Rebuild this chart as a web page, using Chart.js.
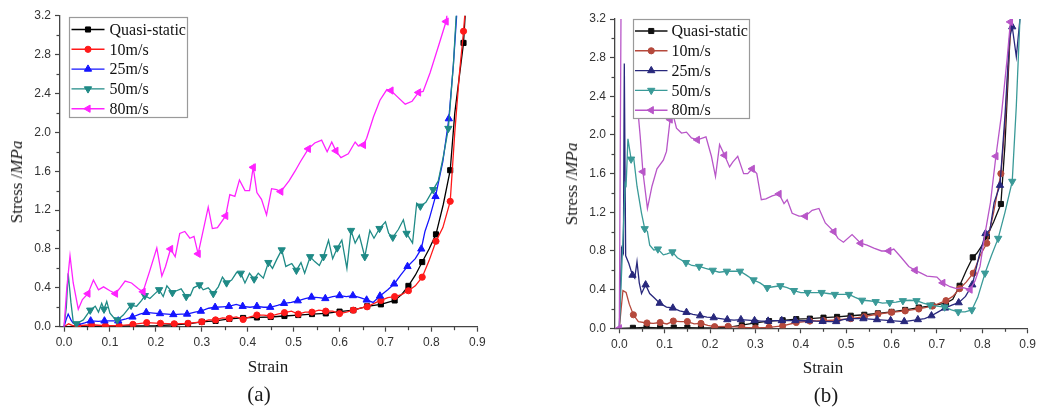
<!DOCTYPE html>
<html><head><meta charset="utf-8">
<script src="https://cdn.jsdelivr.net/npm/chart.js@4.4.0/dist/chart.umd.min.js"></script>
<style>
html,body{margin:0;padding:0;background:#fff;}
#wrap{position:relative;width:1040px;height:408px;overflow:hidden;background:#fff;}
canvas{position:absolute;top:0;}
.lbl{position:absolute;font-family:"Liberation Serif","Times New Roman",serif;color:#1a1a1a;white-space:nowrap;transform:translate(-50%,-50%);}
.ttl{font-size:17px;}
.rot{transform:translate(-50%,-50%) rotate(-90deg);}
.pan{font-size:21px;}
</style></head><body>
<div id="wrap">
<canvas id="ca" width="520" height="408" style="left:0;width:520px;height:408px"></canvas>
<canvas id="cb" width="520" height="408" style="left:520px;width:520px;height:408px"></canvas>
<div class="lbl ttl" style="left:268px;top:367px">Strain</div>
<div class="lbl ttl" style="left:823px;top:368px">Strain</div>
<div class="lbl ttl rot" style="left:17px;top:182px">Stress /<i>MPa</i></div>
<div class="lbl ttl rot" style="left:572px;top:184px">Stress /<i>MPa</i></div>
<div class="lbl pan" style="left:259px;top:394px">(a)</div>
<div class="lbl pan" style="left:826px;top:395px">(b)</div>
</div>
<script>
// ---------------- DATA ----------------
const seriesNames = ['Quasi-static', '10m/s', '25m/s', '50m/s', '80m/s'];
const xTickValues = [0, 0.1, 0.2, 0.3, 0.4, 0.5, 0.6, 0.7, 0.8, 0.9];
const yTickValues = [0, 0.4, 0.8, 1.2, 1.6, 2.0, 2.4, 2.8, 3.2];

// Panel (a)
const a_qs = [[0,0],[0.05,0.003],[0.1,0.005],[0.15,0.008],[0.2,0.012],[0.24,0.02],[0.27,0.03],[0.3,0.05],[0.33,0.06],[0.36,0.08],[0.39,0.09],[0.42,0.095],[0.45,0.1],[0.48,0.11],[0.51,0.12],[0.54,0.13],[0.57,0.137],[0.6,0.155],[0.63,0.17],[0.66,0.21],[0.69,0.23],[0.72,0.27],[0.735,0.33],[0.75,0.42],[0.765,0.53],[0.78,0.665],[0.795,0.8],[0.81,0.95],[0.826,1.26],[0.841,1.61],[0.851,2.2],[0.87,2.92],[0.876,3.4]];
const a_10 = [[0,0],[0.01,0.03],[0.02,0.01],[0.03,0.01],[0.06,0.02],[0.09,0.01],[0.12,0.012],[0.15,0.024],[0.18,0.042],[0.21,0.035],[0.24,0.03],[0.27,0.035],[0.3,0.05],[0.315,0.07],[0.33,0.07],[0.345,0.09],[0.36,0.085],[0.375,0.1],[0.39,0.075],[0.405,0.1],[0.42,0.12],[0.435,0.12],[0.45,0.11],[0.465,0.13],[0.48,0.145],[0.495,0.16],[0.51,0.13],[0.525,0.15],[0.54,0.15],[0.555,0.17],[0.57,0.16],[0.585,0.16],[0.6,0.135],[0.615,0.15],[0.63,0.17],[0.645,0.19],[0.66,0.205],[0.675,0.24],[0.69,0.27],[0.705,0.3],[0.72,0.31],[0.735,0.33],[0.75,0.37],[0.765,0.42],[0.78,0.51],[0.795,0.68],[0.81,0.88],[0.825,1.02],[0.841,1.29],[0.851,2.0],[0.861,2.6],[0.87,3.04],[0.876,3.4]];
const a_25 = [[0,0],[0.005,0.08],[0.009,0.13],[0.015,0.07],[0.02,0.035],[0.03,0.02],[0.045,0.04],[0.058,0.06],[0.075,0.055],[0.088,0.06],[0.105,0.06],[0.118,0.06],[0.135,0.08],[0.149,0.1],[0.165,0.13],[0.179,0.147],[0.195,0.14],[0.209,0.135],[0.225,0.13],[0.238,0.125],[0.255,0.13],[0.268,0.13],[0.285,0.15],[0.298,0.16],[0.315,0.19],[0.329,0.2],[0.345,0.205],[0.359,0.21],[0.375,0.23],[0.389,0.21],[0.405,0.2],[0.42,0.21],[0.435,0.2],[0.449,0.2],[0.465,0.22],[0.479,0.24],[0.495,0.25],[0.509,0.267],[0.525,0.29],[0.539,0.305],[0.555,0.3],[0.569,0.29],[0.585,0.31],[0.6,0.32],[0.615,0.31],[0.629,0.32],[0.645,0.3],[0.659,0.275],[0.673,0.25],[0.688,0.316],[0.705,0.38],[0.719,0.44],[0.733,0.53],[0.748,0.62],[0.765,0.7],[0.778,0.8],[0.786,0.98],[0.796,1.12],[0.809,1.34],[0.825,1.7],[0.838,2.14],[0.848,2.7],[0.855,3.2],[0.858,3.4]];
const a_50 = [[0,0],[0.005,0.2],[0.009,0.55],[0.015,0.25],[0.02,0.05],[0.027,0.03],[0.042,0.07],[0.057,0.17],[0.068,0.21],[0.075,0.15],[0.082,0.24],[0.087,0.18],[0.093,0.26],[0.1,0.14],[0.107,0.1],[0.116,0.07],[0.129,0.12],[0.146,0.22],[0.158,0.21],[0.169,0.27],[0.176,0.32],[0.187,0.29],[0.198,0.34],[0.207,0.38],[0.216,0.31],[0.224,0.42],[0.236,0.35],[0.245,0.37],[0.255,0.39],[0.266,0.31],[0.275,0.32],[0.282,0.4],[0.295,0.43],[0.303,0.38],[0.314,0.4],[0.325,0.34],[0.336,0.41],[0.345,0.51],[0.354,0.45],[0.365,0.48],[0.376,0.56],[0.385,0.55],[0.394,0.45],[0.404,0.55],[0.414,0.49],[0.423,0.55],[0.434,0.5],[0.445,0.66],[0.454,0.6],[0.463,0.69],[0.474,0.79],[0.483,0.62],[0.496,0.65],[0.506,0.58],[0.516,0.66],[0.524,0.55],[0.536,0.72],[0.546,0.67],[0.556,0.63],[0.565,0.72],[0.576,0.89],[0.585,0.7],[0.595,0.81],[0.605,0.89],[0.616,0.6],[0.625,0.99],[0.634,0.86],[0.643,0.94],[0.655,0.72],[0.666,0.99],[0.675,0.91],[0.687,1.01],[0.7,1.08],[0.707,0.96],[0.716,0.92],[0.728,1.0],[0.739,1.1],[0.746,0.96],[0.759,0.86],[0.768,1.27],[0.776,1.24],[0.788,1.28],[0.804,1.41],[0.815,1.5],[0.826,1.75],[0.837,2.04],[0.848,2.7],[0.854,3.2],[0.857,3.4]];
const a_80 = [[0,0],[0.006,0.4],[0.013,0.73],[0.02,0.45],[0.031,0.18],[0.04,0.28],[0.052,0.34],[0.064,0.48],[0.075,0.38],[0.086,0.41],[0.1,0.37],[0.112,0.34],[0.122,0.4],[0.133,0.47],[0.147,0.45],[0.162,0.39],[0.172,0.36],[0.187,0.58],[0.202,0.81],[0.213,0.52],[0.221,0.62],[0.232,0.8],[0.242,0.72],[0.252,0.96],[0.263,0.98],[0.274,0.91],[0.283,0.93],[0.292,0.75],[0.314,1.23],[0.323,1.01],[0.334,1.02],[0.352,1.14],[0.361,1.36],[0.372,1.34],[0.382,1.51],[0.394,1.4],[0.404,1.4],[0.412,1.64],[0.42,1.38],[0.43,1.31],[0.441,1.15],[0.452,1.42],[0.463,1.41],[0.472,1.39],[0.49,1.5],[0.503,1.6],[0.515,1.7],[0.532,1.83],[0.546,1.89],[0.561,1.92],[0.573,1.8],[0.583,1.9],[0.592,1.81],[0.603,1.74],[0.619,1.78],[0.634,1.9],[0.641,1.86],[0.652,1.87],[0.659,1.94],[0.674,2.16],[0.688,2.33],[0.703,2.44],[0.712,2.43],[0.725,2.37],[0.743,2.29],[0.758,2.32],[0.772,2.41],[0.782,2.42],[0.797,2.61],[0.815,2.88],[0.832,3.14],[0.838,3.35]];

// Panel (b)
const b_qs = [[0,0],[0.03,0.005],[0.06,0.01],[0.09,0.005],[0.12,0.008],[0.15,0.008],[0.18,0.005],[0.21,0.005],[0.24,0.01],[0.27,0.032],[0.3,0.057],[0.33,0.075],[0.36,0.083],[0.39,0.095],[0.42,0.1],[0.45,0.11],[0.48,0.118],[0.51,0.13],[0.54,0.14],[0.57,0.155],[0.6,0.17],[0.63,0.19],[0.66,0.215],[0.69,0.235],[0.72,0.26],[0.735,0.3],[0.75,0.44],[0.765,0.6],[0.779,0.734],[0.788,0.776],[0.8,0.86],[0.81,0.95],[0.825,1.1],[0.841,1.286],[0.85,1.9],[0.857,2.6],[0.863,3.2],[0.866,3.5]];
const b_10 = [[0,0],[0.004,0.2],[0.008,0.39],[0.015,0.37],[0.022,0.25],[0.031,0.14],[0.042,0.07],[0.061,0.055],[0.075,0.05],[0.09,0.06],[0.105,0.045],[0.119,0.075],[0.135,0.07],[0.15,0.07],[0.165,0.045],[0.18,0.05],[0.195,0.03],[0.21,0.017],[0.24,0.02],[0.27,0.01],[0.3,0.003],[0.33,0.01],[0.36,0.024],[0.39,0.06],[0.42,0.075],[0.45,0.08],[0.48,0.086],[0.51,0.1],[0.54,0.12],[0.57,0.148],[0.6,0.165],[0.63,0.18],[0.66,0.2],[0.69,0.23],[0.72,0.286],[0.735,0.33],[0.75,0.41],[0.765,0.48],[0.78,0.57],[0.795,0.75],[0.81,0.88],[0.825,1.2],[0.841,1.6],[0.85,2.1],[0.858,2.8],[0.864,3.2],[0.867,3.5]];
const b_25 = [[0,0],[0.005,0.83],[0.009,0.78],[0.011,2.74],[0.014,0.75],[0.021,0.67],[0.029,0.55],[0.034,0.52],[0.039,0.69],[0.044,0.47],[0.049,0.36],[0.058,0.45],[0.067,0.36],[0.078,0.31],[0.089,0.26],[0.104,0.22],[0.118,0.21],[0.133,0.18],[0.148,0.165],[0.162,0.145],[0.178,0.13],[0.193,0.115],[0.208,0.11],[0.223,0.1],[0.238,0.09],[0.253,0.085],[0.268,0.09],[0.283,0.085],[0.298,0.08],[0.313,0.075],[0.328,0.075],[0.343,0.08],[0.358,0.08],[0.373,0.08],[0.388,0.08],[0.403,0.078],[0.418,0.08],[0.433,0.075],[0.448,0.072],[0.463,0.07],[0.478,0.07],[0.493,0.09],[0.508,0.1],[0.523,0.1],[0.538,0.1],[0.553,0.095],[0.568,0.09],[0.583,0.085],[0.598,0.08],[0.613,0.075],[0.628,0.07],[0.643,0.08],[0.658,0.09],[0.673,0.1],[0.688,0.13],[0.703,0.17],[0.718,0.21],[0.733,0.24],[0.748,0.265],[0.763,0.33],[0.778,0.45],[0.793,0.75],[0.807,0.98],[0.817,1.02],[0.826,1.3],[0.839,1.48],[0.85,2.2],[0.86,3.0],[0.866,3.12],[0.875,2.81],[0.883,3.2],[0.886,3.5]];
const b_50 = [[0,0],[0.013,1.5],[0.015,1.48],[0.019,1.96],[0.026,1.75],[0.032,1.75],[0.039,1.47],[0.049,1.19],[0.056,1.03],[0.062,1.0],[0.067,0.86],[0.076,0.81],[0.085,0.82],[0.097,0.76],[0.105,0.77],[0.117,0.79],[0.128,0.73],[0.147,0.68],[0.16,0.65],[0.176,0.64],[0.19,0.62],[0.206,0.6],[0.22,0.58],[0.237,0.59],[0.252,0.59],[0.266,0.59],[0.28,0.55],[0.296,0.5],[0.31,0.47],[0.326,0.42],[0.34,0.43],[0.355,0.44],[0.37,0.42],[0.385,0.39],[0.4,0.37],[0.415,0.37],[0.43,0.37],[0.446,0.37],[0.46,0.36],[0.475,0.35],[0.49,0.35],[0.506,0.35],[0.52,0.32],[0.535,0.29],[0.55,0.285],[0.565,0.275],[0.58,0.26],[0.596,0.265],[0.61,0.27],[0.625,0.285],[0.64,0.29],[0.655,0.285],[0.67,0.26],[0.685,0.24],[0.7,0.23],[0.717,0.22],[0.732,0.19],[0.747,0.17],[0.762,0.17],[0.777,0.19],[0.79,0.32],[0.806,0.57],[0.82,0.75],[0.835,0.93],[0.85,1.2],[0.866,1.52],[0.875,2.3],[0.883,3.2],[0.886,3.5]];
const b_80 = [[0,0],[0.004,3.5],[0.035,3.35],[0.042,2.2],[0.046,1.99],[0.052,1.62],[0.062,1.24],[0.072,1.47],[0.083,1.65],[0.097,1.74],[0.104,1.83],[0.112,2.16],[0.118,2.22],[0.126,2.07],[0.137,2.02],[0.148,2.03],[0.159,1.97],[0.172,1.95],[0.191,1.98],[0.203,1.78],[0.212,1.57],[0.221,1.9],[0.232,1.79],[0.243,1.67],[0.25,1.72],[0.261,1.78],[0.274,1.6],[0.283,1.6],[0.293,1.65],[0.303,1.6],[0.313,1.33],[0.323,1.34],[0.337,1.37],[0.352,1.39],[0.363,1.29],[0.37,1.33],[0.381,1.19],[0.396,1.16],[0.41,1.16],[0.425,1.22],[0.44,1.24],[0.454,1.09],[0.473,1.0],[0.482,0.93],[0.494,0.89],[0.513,0.97],[0.532,0.88],[0.546,0.86],[0.561,0.83],[0.578,0.8],[0.594,0.8],[0.605,0.82],[0.62,0.74],[0.638,0.64],[0.652,0.6],[0.665,0.57],[0.678,0.54],[0.7,0.53],[0.713,0.47],[0.729,0.43],[0.743,0.41],[0.758,0.42],[0.773,0.4],[0.784,0.49],[0.795,0.64],[0.806,0.98],[0.818,1.3],[0.83,1.78],[0.842,2.2],[0.855,2.8],[0.862,3.17],[0.865,3.5]];

// ---------------- STYLE ----------------
const colorsA = ['#000000', '#ff1a1a', '#1515ff', '#1f8a86', '#ff22ff'];
const colorsB = ['#111111', '#b5493c', '#28287c', '#3a9a98', '#b856c8'];
const pointStyles = [{s:'rect',r:3.6,rot:0},{s:'circle',r:3.1,rot:0},{s:'triangle',r:4.2,rot:0},{s:'triangle',r:4.2,rot:180},{s:'triangle',r:4.2,rot:270}];
// marker placement: [start, step, end]
const marksA = [[0.03,0.03,0.87],[0.03,0.03,0.87],[0.058,0.03,0.84],[0.027,0.03,0.84],[0.052,0.06,0.84]];
const marksB = [[0.03,0.03,0.84],[0.03,0.03,0.84],[0.028,0.03,0.87],[0.026,0.03,0.87],[0.0,0.052,0.052]];
const marksB80extra = [0.112,0.172,0.232,0.292,0.352,0.41,0.473,0.532,0.594,0.652,0.713,0.773,0.83,0.862];

function markerSet(data, spec, extra) {
  const targets = [];
  for (let t = spec[0]; t <= spec[2] + 1e-9; t += spec[1]) targets.push(t);
  (extra || []).forEach(t => targets.push(t));
  const set = new Set();
  targets.forEach(t => {
    let best = -1, bd = 1e9;
    data.forEach((p, i) => { const d = Math.abs(p[0] - t); if (d < bd) { bd = d; best = i; } });
    if (bd <= 0.009) set.add(best);
  });
  return set;
}

function drawMarker(ctx, st, x, y, color) {
  ctx.save();
  ctx.fillStyle = color; ctx.strokeStyle = color; ctx.lineWidth = 1;
  ctx.beginPath();
  if (st.s === 'rect') {
    const h = st.r * Math.SQRT1_2; ctx.rect(x - h, y - h, 2*h, 2*h);
  } else if (st.s === 'circle') {
    ctx.arc(x, y, st.r, 0, Math.PI*2);
  } else {
    let a = st.rot * Math.PI / 180;
    for (let k = 0; k < 3; k++) {
      const px = x + Math.sin(a) * st.r, py = y - Math.cos(a) * st.r;
      if (k === 0) ctx.moveTo(px, py); else ctx.lineTo(px, py);
      a += 2*Math.PI/3;
    }
    ctx.closePath();
  }
  ctx.fill(); ctx.stroke();
  ctx.restore();
}

const decoPlugin = {
  id: 'deco',
  afterDraw(chart) {
    const o = chart.options.plugins.deco;
    const ctx = chart.ctx, xs = chart.scales.x, ys = chart.scales.y;
    ctx.save();
    ctx.strokeStyle = '#444'; ctx.lineWidth = 1.2;
    o.minorX.forEach(v => { const p = Math.round(xs.getPixelForValue(v)) + 0.5; ctx.beginPath(); ctx.moveTo(p, chart.chartArea.bottom); ctx.lineTo(p, chart.chartArea.bottom + 3.5); ctx.stroke(); });
    o.minorY.forEach(v => { const p = Math.round(ys.getPixelForValue(v)) + 0.5; ctx.beginPath(); ctx.moveTo(chart.chartArea.left, p); ctx.lineTo(chart.chartArea.left - 3.5, p); ctx.stroke(); });
    // legend
    const L = o.legend;
    ctx.fillStyle = '#fff';
    ctx.fillRect(L.x, L.y, L.w, L.h);
    ctx.strokeStyle = '#9a9a9a'; ctx.lineWidth = 1.2;
    ctx.strokeRect(L.x + 0.5, L.y + 0.5, L.w, L.h);
    ctx.font = '16px "Liberation Serif", "Times New Roman", serif';
    ctx.textBaseline = 'middle'; ctx.textAlign = 'left';
    seriesNames.forEach((name, i) => {
      const y = L.row0 + i * L.rowStep;
      ctx.strokeStyle = o.colors[i]; ctx.lineWidth = 1.4;
      ctx.beginPath(); ctx.moveTo(L.lx0, y); ctx.lineTo(L.lx1, y); ctx.stroke();
      drawMarker(ctx, pointStyles[i], (L.lx0 + L.lx1) / 2, y, o.colors[i]);
      ctx.fillStyle = '#111';
      ctx.fillText(name, L.tx, y + 1);
    });
    ctx.restore();
  }
};

function makeChart(id, seriesList, colors, marks, extras, xmin, pad, legend) {
  const datasets = seriesList.map((d, i) => {
    const set = markerSet(d, marks[i], extras[i]);
    return {
      label: seriesNames[i],
      data: d.map(p => ({x: p[0], y: p[1]})),
      showLine: true,
      borderColor: colors[i],
      backgroundColor: colors[i],
      borderWidth: 1.3,
      tension: 0,
      pointStyle: pointStyles[i].s,
      rotation: pointStyles[i].rot,
      pointRadius: ctx => set.has(ctx.dataIndex) ? pointStyles[i].r : 0,
      pointHoverRadius: 0,
      pointBorderWidth: 1,
      order: 4 - i
    };
  });
  const tickFont = {family: '"Liberation Sans", Arial, sans-serif', size: 12};
  return new Chart(document.getElementById(id), {
    type: 'scatter',
    data: {datasets},
    plugins: [decoPlugin],
    options: {
      responsive: false, animation: false, events: [],
      layout: {padding: pad},
      plugins: {
        legend: {display: false}, tooltip: {enabled: false},
        deco: {
          colors,
          minorX: [0.05,0.15,0.25,0.35,0.45,0.55,0.65,0.75,0.85],
          minorY: [0.2,0.6,1.0,1.4,1.8,2.2,2.6,3.0],
          legend
        }
      },
      scales: {
        x: {
          type: 'linear', min: xmin, max: 0.9,
          afterBuildTicks: s => { s.ticks = xTickValues.map(v => ({value: v})); },
          afterFit: s => { s.height = 30; },
          grid: {display: true, drawOnChartArea: false, drawTicks: true, tickLength: 5, tickColor: '#444', tickWidth: 1.2},
          border: {display: true, color: '#444', width: 1.3},
          ticks: {font: tickFont, color: '#333', padding: 4, autoSkip: false, maxRotation: 0, callback: v => v.toFixed(1)}
        },
        y: {
          type: 'linear', min: 0, max: 3.2,
          afterBuildTicks: s => { s.ticks = yTickValues.map(v => ({value: v})); },
          afterFit: s => { s.width = 40; },
          grid: {display: true, drawOnChartArea: false, drawTicks: true, tickLength: 5, tickColor: '#444', tickWidth: 1.2},
          border: {display: true, color: '#444', width: 1.3},
          ticks: {font: tickFont, color: '#333', padding: 4, autoSkip: false, callback: v => v.toFixed(1)}
        }
      }
    }
  });
}

makeChart('ca', [a_qs, a_10, a_25, a_50, a_80], colorsA, marksA, [[],[],[],[],[]], -0.0088,
  {left: 20, right: 42.7, top: 15.7, bottom: 408 - 326.7 - 30},
  {x: 69, y: 17, w: 118, h: 100, row0: 29.5, rowStep: 19.8, lx0: 71.5, lx1: 104.5, tx: 109.5});

makeChart('cb', [b_qs, b_10, b_25, b_50, b_80], colorsB, marksB, [[],[],[],[],marksB80extra], -0.0095,
  {left: 55, right: 10, top: 19, bottom: 408 - 328.3 - 30},
  {x: 113, y: 19, w: 116, h: 99, row0: 31, rowStep: 19.8, lx0: 115, lx1: 147.5, tx: 151.5});
</script>
</body></html>
